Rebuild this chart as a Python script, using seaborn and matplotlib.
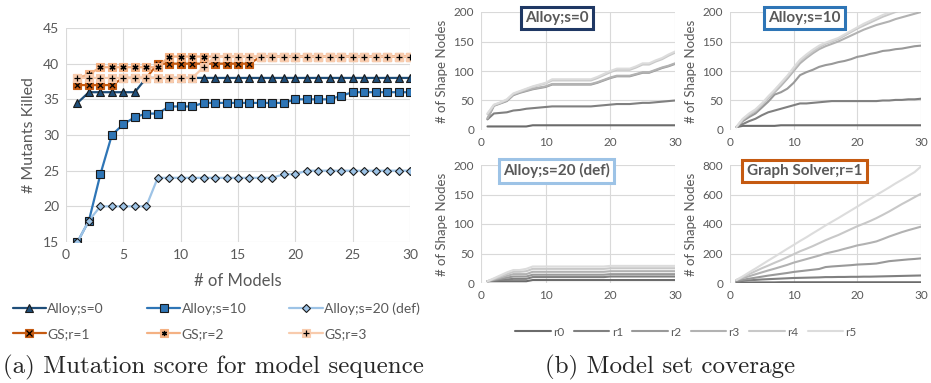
import pandas as pd
import seaborn as sns
import matplotlib.pyplot as plt
from matplotlib.lines import Line2D
from matplotlib.legend_handler import HandlerTuple

sns.set_style("white")
plt.rcParams['font.family'] = ['Lato', 'DejaVu Sans']

# ---- (a) mutation score data ----
models = list(range(1, 31))
alloy_s0 = [34.5, 36, 36, 36, 36, 36] + [38] * 24
alloy_s10 = [15, 18, 24.5, 30, 31.5, 32.5, 33, 33, 34, 34, 34] + [34.5] * 8 + [35] * 4 + [35.5] + [36] * 6
alloy_s20 = [15, 18] + [20] * 5 + [24] * 11 + [24.5, 24.5] + [25] * 10
gs_r1 = [37, 37, 37, 37, 38, 38, 38, 40, 40, 40, 40, 40, 40, 40, 40, 40] + [41] * 14
gs_r2 = [38, 38.5] + [39.5] * 6 + [41] * 22
gs_r3 = [38] * 11 + [39.5] + [41] * 18

# ---- (b) coverage data, one list per radius ----
radii = ['r0', 'r1', 'r2', 'r3', 'r4', 'r5']
s0_nodes = {
    'r0': [6, 6, 6, 6, 6, 6, 6] + [8] * 23,
    'r1': [18, 28, 29, 30, 33, 34, 36, 37, 38, 39, 40, 40, 40, 40, 40, 40, 40, 41, 42, 43, 44, 44, 44, 45, 46, 46, 47, 48, 49, 50],
    'r2': [19, 41, 45, 49, 59, 63, 66, 69, 71, 73, 77, 77, 77, 77, 77, 77, 77, 80, 84, 88, 91, 91, 91, 94, 97, 97, 101, 105, 108, 112],
    'r3': [20, 42, 46, 50, 60, 64, 67, 70, 72, 74, 78, 78, 78, 78, 78, 78, 78, 81, 85, 89, 92, 92, 92, 95, 98, 98, 102, 106, 109, 113],
    'r4': [27, 42, 46, 51, 61, 65, 69, 73, 76, 79, 84, 84, 84, 84, 84, 84, 84, 88, 93, 98, 102, 102, 102, 106, 111, 111, 116, 120, 126, 131],
    'r5': [28, 43, 47, 52, 62, 66, 70, 74, 77, 80, 86, 86, 86, 86, 86, 86, 86, 90, 95, 100, 104, 104, 104, 108, 113, 113, 118, 122, 128, 133],
}
s10_nodes = {
    'r0': [5, 7, 7, 7, 7, 7, 7] + [8] * 23,
    'r1': [5, 10, 15, 19, 25, 30, 33, 36, 39, 42, 45, 45, 46, 47, 48, 49, 49, 49, 49, 49, 49, 49, 49, 50, 50, 51, 51, 52, 52, 53],
    'r2': [5, 15, 22, 28, 38, 48, 60, 64, 70, 80, 93, 98, 102, 107, 110, 112, 115, 117, 120, 124, 126, 129, 131, 134, 135, 137, 138, 140, 142, 143],
    'r3': [5, 17, 25, 32, 42, 54, 64, 75, 87, 100, 113, 122, 130, 137, 142, 146, 150, 155, 160, 165, 170, 174, 178, 181, 184, 188, 191, 194, 197, 200],
    'r4': [5, 18, 26, 33, 43, 55, 66, 78, 90, 103, 117, 125, 133, 140, 146, 150, 154, 160, 166, 172, 177, 182, 187, 192, 196, 200, 204, 208, 212, 216],
    'r5': [5, 19, 28, 35, 45, 57, 68, 80, 92, 106, 119, 128, 136, 143, 148, 152, 156, 162, 168, 174, 180, 185, 190, 195, 199, 203, 207, 211, 215, 219],
}
s20_nodes = {
    'r0': [3, 3, 3, 3, 3, 3, 3] + [5] * 23,
    'r1': [3, 4, 5, 6, 7, 7, 7] + [10] * 12 + [11] * 11,
    'r2': [3, 5, 7, 9, 11, 11, 11] + [14] * 12 + [15] * 11,
    'r3': [3, 6, 9, 12, 15, 15, 15] + [19] * 12 + [20] * 11,
    'r4': [3, 7, 11, 15, 19, 19, 20] + [24] * 12 + [25] * 11,
    'r5': [3, 8, 13, 18, 22, 22, 24] + [28] * 12 + [29] * 11,
}
gs_nodes = {
    'r0': [3, 3, 3, 4, 4, 4, 4] + [5] * 23,
    'r1': [10, 14, 18, 21, 24, 26, 28, 30, 32, 34, 35, 36, 37, 38, 40, 40, 41, 41, 42, 42, 43, 43, 44, 45, 46, 47, 48, 49, 50, 51],
    'r2': [15, 22, 29, 36, 43, 50, 56, 62, 68, 75, 80, 85, 90, 95, 108, 112, 115, 118, 121, 125, 127, 129, 132, 140, 148, 152, 156, 160, 163, 167],
    'r3': [20, 33, 46, 59, 72, 85, 97, 110, 123, 138, 150, 162, 174, 186, 200, 210, 220, 232, 243, 255, 263, 272, 282, 298, 315, 330, 345, 358, 370, 382],
    'r4': [20, 40, 60, 80, 100, 118, 137, 155, 175, 195, 215, 232, 250, 270, 290, 308, 325, 345, 365, 385, 402, 420, 440, 462, 485, 510, 535, 558, 582, 605],
    'r5': [20, 45, 72, 98, 125, 152, 178, 205, 232, 258, 285, 310, 337, 363, 390, 415, 440, 466, 492, 518, 545, 570, 597, 622, 648, 675, 700, 726, 752, 790],
}

W, H = 931, 383
txt = '#595959'
grid = '#d9d9d9'


def rect(x0, y0, x1, y1):
    return [x0 / W, 1 - y1 / H, (x1 - x0) / W, (y1 - y0) / H]


fig = plt.figure(figsize=(W / 100, H / 100), dpi=100)

# ---- left chart ----
ax = fig.add_axes(rect(66, 28, 410, 242))
series = [
    ('Alloy;s=0', alloy_s0, '#1F4E79', '^', 5.5, None),
    ('Alloy;s=10', alloy_s10, '#2E75B6', 's', 5.5, None),
    ('Alloy;s=20 (def)', alloy_s20, '#9DC3E6', 'D', 4, None),
    ('GS;r=1', gs_r1, '#C55A11', 's', 5.5, 'x'),
    ('GS;r=2', gs_r2, '#F4B183', 's', 5.5, (6, 2, 0)),
    ('GS;r=3', gs_r3, '#F8CBAD', 's', 5.5, '+'),
]
handles = []
for i, (name, vals, col, mk, ms, over) in enumerate(series):
    d = pd.DataFrame({'model': models, 'killed': vals})
    edge = '#1a1a1a' if over is None else col
    sns.lineplot(data=d, x='model', y='killed', ax=ax, color=col, lw=1.6,
                 marker=mk, markersize=ms, markerfacecolor=col,
                 markeredgecolor=edge, markeredgewidth=0.8, zorder=3 + 2 * i)
    h = Line2D([], [], color=col, lw=1.6, marker=mk, markersize=ms,
               markerfacecolor=col, markeredgecolor=edge, markeredgewidth=0.8)
    if over is not None:
        sns.scatterplot(data=d, x='model', y='killed', ax=ax, marker=over,
                        color='black', s=14, linewidth=0.9, zorder=4 + 2 * i)
        h = (h, Line2D([], [], ls='none', marker=over, color='black',
                       markersize=3.7, markeredgewidth=0.9))
    handles.append((name, h))

ax.set_xlim(0, 30)
ax.set_ylim(15, 45)
ax.set_xticks(range(0, 31, 5))
ax.set_yticks(range(15, 46, 5))
ax.grid(True, color=grid, lw=0.8)
for s in ax.spines.values():
    s.set_visible(False)
ax.tick_params(length=0, labelsize=10, labelcolor=txt, pad=5)
ax.set_xlabel('# of Models', fontsize=12, color=txt, labelpad=9)
ax.set_ylabel('# Mutants Killed', fontsize=11.5, color=txt, labelpad=5)

order = [0, 3, 1, 4, 2, 5]
fig.legend([handles[k][1] for k in order], [handles[k][0] for k in order],
           handler_map={tuple: HandlerTuple(ndivide=1)},
           ncol=3, loc='upper left', bbox_to_anchor=(0.0, 1 - 290 / H),
           frameon=False, fontsize=10, handlelength=2.4, handletextpad=0.1,
           columnspacing=3.1, labelspacing=0.95, labelcolor=txt)

fig.text(3 / W, 1 - 367 / H, '(a) Mutation score for model sequence',
         family='cmr10', fontsize=18, va='center', ha='left')

# ---- right panels ----
greys = dict(zip(radii, ['#6b6b6b', '#808080', '#999999', '#b2b2b2', '#c8c8c8', '#dcdcdc']))
panels = [
    (rect(481, 12, 675, 130), s0_nodes, 200, 50, 'Alloy;s=0', '#1F3864'),
    (rect(730, 12, 921, 130), s10_nodes, 200, 50, 'Alloy;s=10', '#2E75B6'),
    (rect(481, 165, 675, 283), s20_nodes, 200, 50, 'Alloy;s=20 (def)', '#9DC3E6'),
    (rect(730, 165, 921, 283), gs_nodes, 800, 200, 'Graph Solver;r=1', '#C55A11'),
]
for pos, nodes, ymax, ystep, title, ec in panels:
    pax = fig.add_axes(pos)
    df = pd.DataFrame({
        'model': models * len(radii),
        'nodes': [v for r in radii for v in nodes[r]],
        'radius': [r for r in radii for _ in models],
    })
    sns.lineplot(data=df, x='model', y='nodes', hue='radius', palette=greys,
                 ax=pax, lw=1.5, legend=False)
    pax.set_xlim(0, 30)
    pax.set_ylim(0, ymax)
    pax.set_xticks(range(0, 31, 10))
    pax.set_yticks(range(0, ymax + 1, ystep))
    pax.grid(True, color=grid, lw=0.8)
    for s in pax.spines.values():
        s.set_visible(False)
    pax.tick_params(length=0, labelsize=8.5, labelcolor=txt, pad=5)
    pax.set_xlabel('')
    pax.set_ylabel('# of Shape Nodes', fontsize=9.5, color=txt, labelpad=4)
    pax.text(0.39, 0.95, title, transform=pax.transAxes, ha='center', va='center',
             fontsize=11, fontweight='bold', color=txt, zorder=10,
             bbox=dict(boxstyle='square,pad=0.28', fc='white', ec=ec, lw=2.2))

grey_handles = [Line2D([], [], color=greys[r], lw=1.5) for r in radii]
fig.legend(grey_handles, radii, ncol=6, loc='center',
           bbox_to_anchor=(686 / W, 1 - 332 / H), frameon=False, fontsize=8.5,
           handlelength=3, handletextpad=0.2, columnspacing=0.8, labelcolor=txt)

fig.text(670 / W, 1 - 367 / H, '(b) Model set coverage',
         family='cmr10', fontsize=18, va='center', ha='center')

fig.savefig('out.png', dpi=100)
